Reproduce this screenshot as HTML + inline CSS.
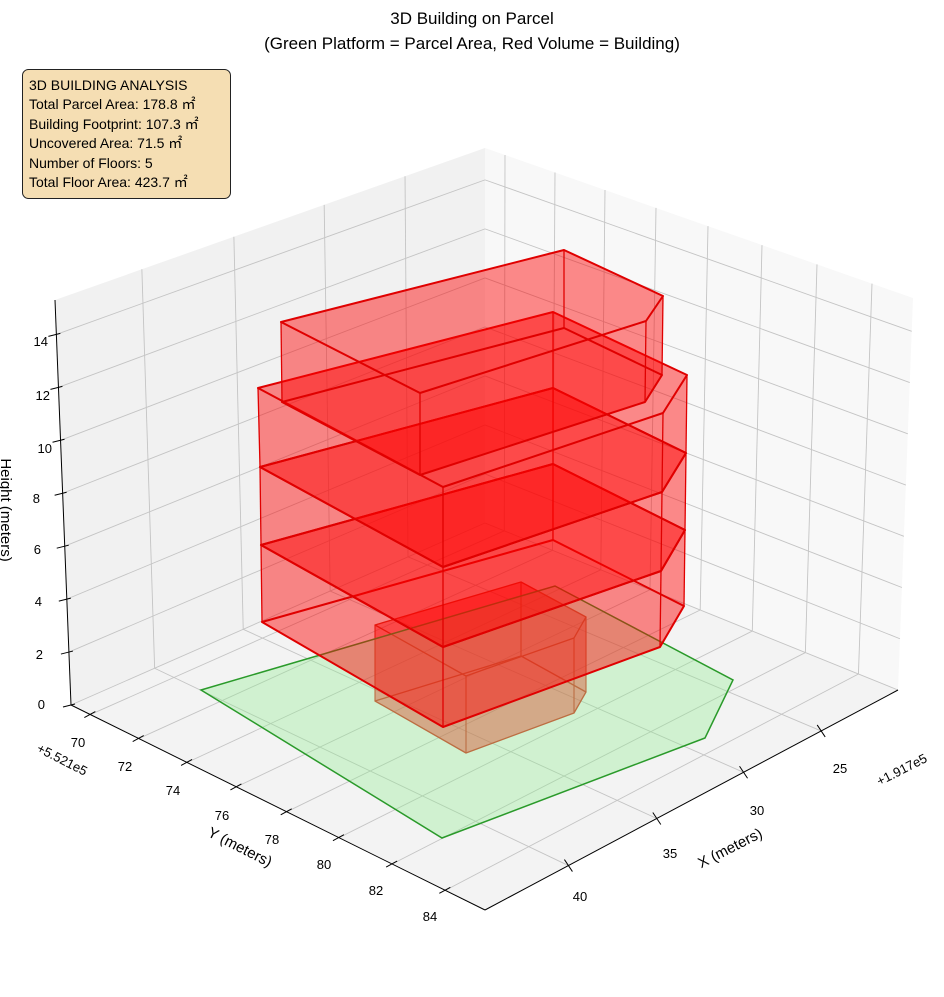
<!DOCTYPE html>
<html><head><meta charset="utf-8">
<style>
html,body{margin:0;padding:0;background:#fff;}
body{width:944px;height:992px;overflow:hidden;position:relative;font-family:"Liberation Sans","DejaVu Sans",sans-serif;}
svg text{font-family:"Liberation Sans","DejaVu Sans",sans-serif;fill:#000;}
</style></head>
<body>
<svg id="s" width="944" height="992" viewBox="0 0 944 992" xmlns="http://www.w3.org/2000/svg">
<g id="panes">
<polygon points="55,300 485,148 485,523 71,705" fill="#f1f1f1"/>
<polygon points="485,148 913,298 898,690 485,523" fill="#f8f8f8"/>
<polygon points="71,705 485,523 898,690 485,910" fill="#f3f3f3"/>
</g>
<g id="grid" stroke="#c4c4c4" stroke-width="0.9" fill="none"></g>
<g id="axes" stroke="#000" stroke-width="1" fill="none">
<line x1="55" y1="300" x2="71" y2="705"/>
<line x1="71" y1="705" x2="485" y2="910"/>
<line x1="485" y1="910" x2="898" y2="690"/>
</g>
<g id="ticks" stroke="#000" stroke-width="1"></g>
<g id="bldg"></g>
<g font-size="13">
<text x="48" y="346" text-anchor="end">14</text>
<text x="50" y="400" text-anchor="end">12</text>
<text x="52" y="453" text-anchor="end">10</text>
<text x="40" y="503" text-anchor="end">8</text>
<text x="41" y="554" text-anchor="end">6</text>
<text x="42" y="606" text-anchor="end">4</text>
<text x="43" y="659" text-anchor="end">2</text>
<text x="45" y="709" text-anchor="end">0</text>
<text x="78" y="747" text-anchor="middle">70</text>
<text x="125" y="771" text-anchor="middle">72</text>
<text x="173" y="795" text-anchor="middle">74</text>
<text x="222" y="820" text-anchor="middle">76</text>
<text x="272" y="844" text-anchor="middle">78</text>
<text x="324" y="869" text-anchor="middle">80</text>
<text x="376" y="895" text-anchor="middle">82</text>
<text x="430" y="921" text-anchor="middle">84</text>
<text x="840" y="773" text-anchor="middle">25</text>
<text x="757" y="815" text-anchor="middle">30</text>
<text x="670" y="858" text-anchor="middle">35</text>
<text x="580" y="901" text-anchor="middle">40</text>
<text x="62" y="764" text-anchor="middle" transform="rotate(27 62 760)">+5.521e5</text>
<text x="902" y="774" text-anchor="middle" transform="rotate(-27 902 770)">+1.917e5</text>
</g>
<g font-size="15">
<text x="240" y="852" text-anchor="middle" transform="rotate(27 240 847)">Y (meters)</text>
<text x="730" y="853" text-anchor="middle" transform="rotate(-27 730 848)">X (meters)</text>
<text text-anchor="middle" transform="translate(1 510) rotate(90)">Height (meters)</text>
</g>
<g font-size="17" text-anchor="middle">
<text x="472" y="24">3D Building on Parcel</text>
<text x="472" y="49">(Green Platform = Parcel Area, Red Volume = Building)</text>
</g>
<rect x="22.5" y="69.5" width="208" height="129" rx="6" fill="#f5deb3" stroke="#222" stroke-width="1"/>
<g font-size="14">
<text x="29" y="90">3D BUILDING ANALYSIS</text>
<text x="29" y="109">Total Parcel Area: 178.8 ㎡</text>
<text x="29" y="129">Building Footprint: 107.3 ㎡</text>
<text x="29" y="148">Uncovered Area: 71.5 ㎡</text>
<text x="29" y="168">Number of Floors: 5</text>
<text x="29" y="187">Total Floor Area: 423.7 ㎡</text>
</g>
</svg>
<script>
(function(){
var NS="http://www.w3.org/2000/svg";
function el(p,t,a){var e=document.createElementNS(NS,t);for(var k in a)e.setAttribute(k,a[k]);p.appendChild(e);return e;}
function lerp(a,b,t){return [a[0]+(b[0]-a[0])*t,a[1]+(b[1]-a[1])*t];}
var L=[71,705],B=[485,523],R=[898,690],F=[485,910],TL=[55,300],TB=[485,148],TR=[913,298];
var g=document.getElementById('grid'),tk=document.getElementById('ticks');
function ln(p,a,b){el(p,'line',{x1:a[0],y1:a[1],x2:b[0],y2:b[1]});}
var xs=[0.186,0.374,0.584,0.798];
xs.forEach(function(s){
  ln(g,lerp(TB,TL,s),lerp(B,L,s));
  ln(g,lerp(B,L,s),lerp(R,F,s));
  var p=lerp(R,F,s); ln(tk,[p[0]-4,p[1]-6],[p[0]+4,p[1]+6]);
});
var ys=[505,555,605,656,708,762,817,872].map(function(x){return (x-485)/428;});
ys.forEach(function(p){
  ln(g,lerp(TB,TR,p),lerp(B,R,p));
  ln(g,lerp(B,R,p),lerp(L,F,p));
  var q=lerp(L,F,p); ln(tk,[q[0]-6,q[1]+3],[q[0]+5,q[1]-3]);
});
for(var z=0;z<=14;z+=2){
  var t=z/15.3;
  var l=lerp(L,TL,t),b=lerp(B,TB,t),r=lerp(R,TR,t);
  ln(g,l,b);ln(g,b,r);
  ln(tk,[l[0]-8,l[1]+2],[l[0]+4,l[1]-1]);
}
var bg=document.getElementById('bldg');
function pts(a){return a.map(function(p){return p[0]+','+p[1];}).join(' ');}
function ln2(a,b,c,w){el(bg,'line',{x1:a[0],y1:a[1],x2:b[0],y2:b[1],stroke:c,'stroke-width':w});}
function prism(top,bot,fill,edge,ew,vw){
  var n=top.length;
  el(bg,'polygon',{points:pts(bot),fill:fill});
  for(var i=0;i<n;i++){var j=(i+1)%n;
    el(bg,'polygon',{points:pts([top[i],top[j],bot[j],bot[i]]),fill:fill});}
  el(bg,'polygon',{points:pts(top),fill:fill});
  el(bg,'polygon',{points:pts(bot),fill:'none',stroke:edge,'stroke-width':ew,'stroke-linejoin':'round'});
  el(bg,'polygon',{points:pts(top),fill:'none',stroke:edge,'stroke-width':ew,'stroke-linejoin':'round'});
  for(var i=0;i<n;i++) ln2(top[i],bot[i],edge,vw);
}
var RF='rgba(255,0,0,0.26)';
prism([[375,625],[521,582],[586,617],[574,638],[466,676]],
      [[375,701],[521,656],[586,692],[574,713],[466,753]],RF,'#d42a1a',1.3,1.1);
el(bg,'polygon',{points:'201,690 555,586 733,680 705,738 442,838',fill:'rgba(144,238,144,0.35)',stroke:'#2a9a2a','stroke-width':1.5});
var rings=[
 [[262,622],[553,540],[684,606],[660,647],[443,727]],
 [[261,545],[553,464],[685,530],[661,571],[443,647]],
 [[260,467],[553,388],[686,453],[662,492],[443,567]],
 [[258,388],[553,312],[687,375],[663,413],[443,487]]];
for(var k=0;k<3;k++) prism(rings[k+1],rings[k],RF,'#e00000',2,1.3);
prism([[281,322],[564,250],[663,296],[646,321],[420,393]],
      [[282,402],[564,328],[662,375],[645,402],[420,475]],RF,'#e00000',2,1.3);
})();
</script>
</body></html>
